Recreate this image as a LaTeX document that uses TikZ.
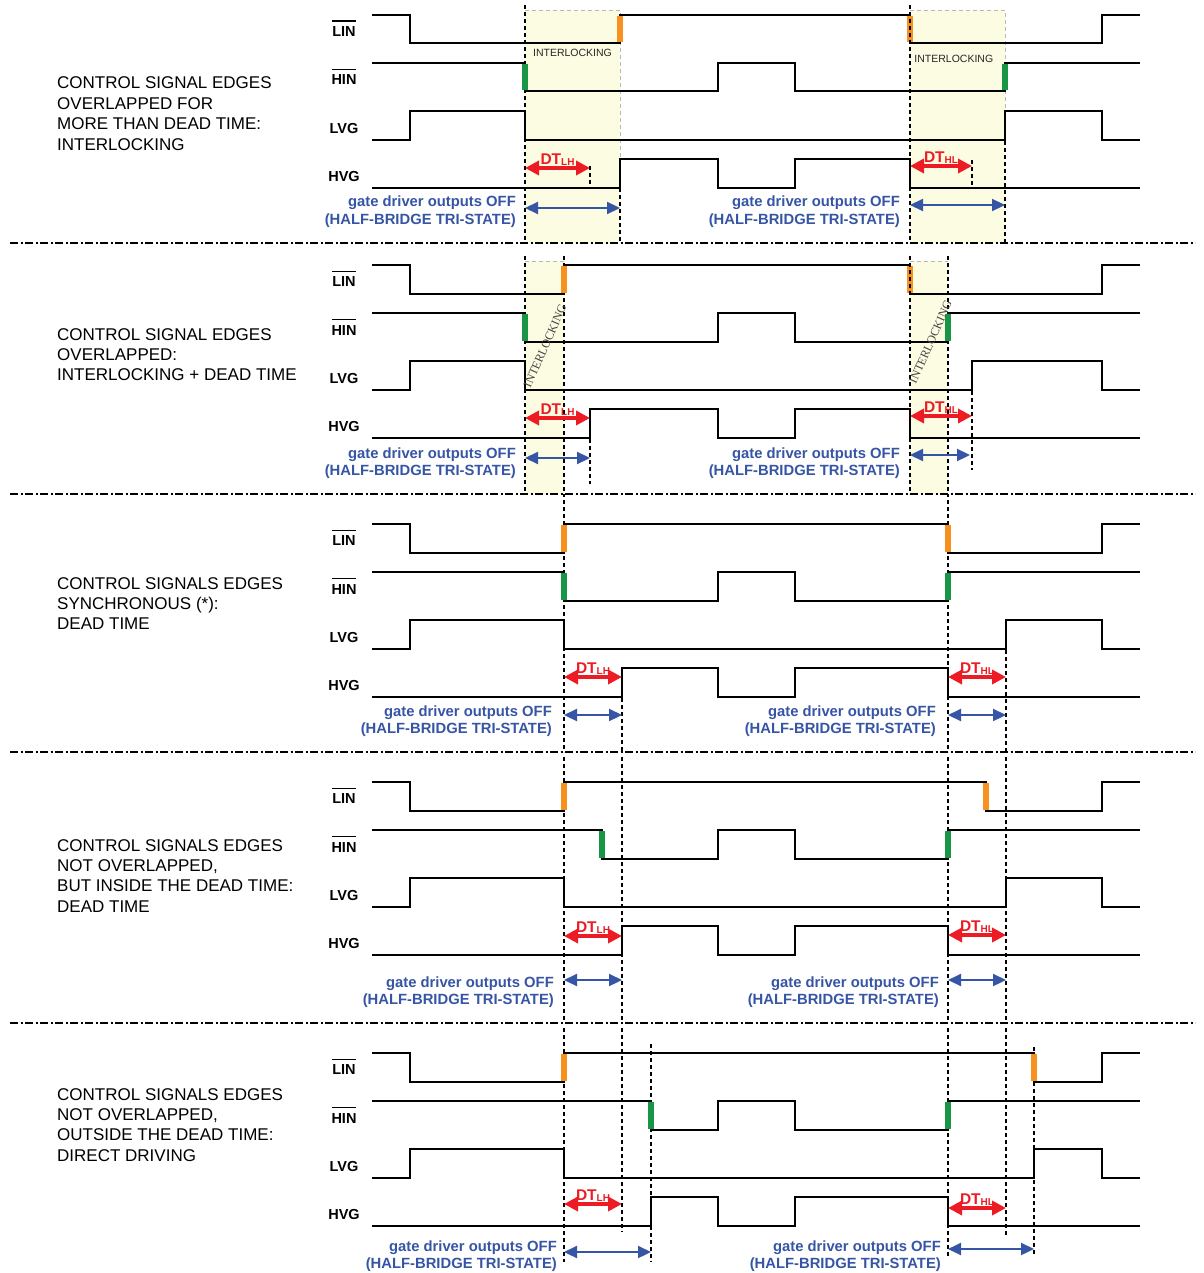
\documentclass[tikz,border=0pt]{standalone}
\usepackage{fontspec}
\setmainfont{Liberation Sans}
\newfontfamily\timesfont{Liberation Serif}
\usetikzlibrary{arrows.meta}
\definecolor{sigorange}{RGB}{247,144,30}
\definecolor{siggreen}{RGB}{24,150,70}
\definecolor{dtred}{RGB}{237,28,36}
\definecolor{offblue}{RGB}{55,85,165}
\definecolor{shadeyel}{RGB}{252,252,226}
\definecolor{bordergray}{RGB}{185,185,185}
\definecolor{rotgray}{RGB}{70,70,70}

\newcommand\ovl[1]{\setbox0\hbox{#1}\rlap{\rule[14.8pt]{\wd0}{1.4pt}}\box0}

\tikzset{
 wave/.style={line width=2pt},
 orangebar/.style={line width=6pt, sigorange},
 greenbar/.style={line width=6pt, siggreen},
 vdash/.style={line width=1.3pt, dash pattern=on 4pt off 3pt},
 graydash/.style={line width=1pt, bordergray, dash pattern=on 4pt off 3pt},
 sepline/.style={line width=1.8pt, dash pattern=on 8pt off 2.5pt on 2pt off 2.5pt},
 dtarr/.style={dtred, line width=3.5pt, {Triangle[length=14pt,width=14pt]}-{Triangle[length=14pt,width=14pt]}},
 offarr/.style={offblue, line width=2.2pt, {Triangle[length=13pt,width=12pt]}-{Triangle[length=13pt,width=12pt]}},
 siglab/.style={font=\fontsize{14.5}{15}\selectfont\bfseries, anchor=base, inner sep=0pt},
 desc/.style={font=\fontsize{17}{20}\selectfont, anchor=base west, inner sep=0pt},
 offtxt/.style={font=\fontsize{14.8}{16}\selectfont\bfseries, text=offblue, anchor=base east, inner sep=0pt},
 dtlab/.style={font=\fontsize{15.5}{16}\selectfont\bfseries, text=dtred, anchor=base, inner sep=0pt},
 ilock/.style={font=\fontsize{10.5}{11}\selectfont, text=black!85, anchor=base, inner sep=0pt},
 ilockrot/.style={font=\timesfont\fontsize{12}{12}\selectfont, text=rotgray, rotate=66, inner sep=0pt},
}

\newcommand\drawwaves[8]{%
 \draw[wave] (372,0) -- (410,0) -- (410,28.5) -- (#1,28.5) -- (#1,0) -- (#2,0) -- (#2,28.5) -- (1102,28.5) -- (1102,0) -- (1140,0);
 \draw[wave] (372,48) -- (#3,48) -- (#3,76.5) -- (718,76.5) -- (718,48) -- (795,48) -- (795,76.5) -- (#4,76.5) -- (#4,48) -- (1140,48);
 \draw[wave] (372,125) -- (410,125) -- (410,96) -- (#5,96) -- (#5,125) -- (#6,125) -- (#6,96) -- (1102,96) -- (1102,125) -- (1140,125);
 \draw[wave] (372,173) -- (#7,173) -- (#7,144) -- (718,144) -- (718,173) -- (795,173) -- (795,144) -- (#8,144) -- (#8,173) -- (1140,173);
}
\newcommand\drawbars[4]{%
 \draw[orangebar] (#1,1) -- (#1,27.5);
 \draw[orangebar] (#2,1) -- (#2,27.5);
 \draw[greenbar] (#3,49) -- (#3,75.5);
 \draw[greenbar] (#4,49) -- (#4,75.5);
}
\newcommand\siglabels[1]{%
 \node[siglab] (#1lin) at (344,21.7) {\ovl{LIN}};
 \node[siglab] (#1hin) at (344,70) {\ovl{HIN}};
 \node[siglab] (#1lvg) at (344,118.3) {LVG};
 \node[siglab] (#1hvg) at (344,166.7) {HVG};
}
\newcommand\dtarrow[5]{%
 \coordinate (#1a) at (#2,#4);
 \coordinate (#1b) at (#3,#4);
 \draw[dtarr] (#1a) -- (#1b);
 \node[dtlab] (#1l) at ({(#2+#3)/2},{#4-3.5}) {DT{\fontsize{10}{10}\selectfont\raisebox{-1pt}{#5}}};
}
\newcommand\offarrow[4]{%
 \coordinate (#1a) at (#2,#4);
 \coordinate (#1b) at (#3,#4);
 \draw[offarr] (#1a) -- (#1b);
}
\newcommand\offtext[3]{%
 \node[offtxt] (#1t1) at (#2,#3) {gate driver outputs OFF};
 \node[offtxt] (#1t2) at (#2,{#3+17.8}) {(HALF-BRIDGE TRI-STATE)};
}

\begin{document}
\begin{tikzpicture}[x=1pt,y=-1pt]
\useasboundingbox (0,0) rectangle (1203,1273);
\fill[white] (0,0) rectangle (1203,1273);

% interlocking shaded zones
\fill[shadeyel] (525,10.5) rectangle (620,243);
\draw[graydash] (525,10.5) -- (620,10.5) -- (620,187);
\fill[shadeyel] (910,10.5) rectangle (1005,243);
\draw[graydash] (910,10.5) -- (1005,10.5) -- (1005,140);
\fill[shadeyel] (525,261) rectangle (564,494);
\draw[graydash] (525,261) -- (564,261);
\fill[shadeyel] (910,261) rectangle (948,494);
\draw[graydash] (910,261) -- (948,261);

% separators
\draw[sepline] (10,243) -- (1195,243);
\draw[sepline] (10,494) -- (1195,494);
\draw[sepline] (10,752) -- (1195,752);
\draw[sepline] (10,1023) -- (1195,1023);

% waveforms
\begin{scope}[shift={(0,15)}]
 \drawwaves{620}{910}{525}{1005}{525}{1005}{620}{910}
 \siglabels{a}
\end{scope}
\begin{scope}[shift={(0,265)}]
 \drawwaves{564}{910}{525}{948}{525}{972}{590}{910}
 \siglabels{b}
\end{scope}
\begin{scope}[shift={(0,524)}]
 \drawwaves{564}{948}{564}{948}{564}{1006}{622}{948}
 \siglabels{c}
\end{scope}
\begin{scope}[shift={(0,782)}]
 \drawwaves{564}{986}{602}{948}{564}{1006}{622}{948}
 \siglabels{d}
\end{scope}
\begin{scope}[shift={(0,1053)}]
 \drawwaves{564}{1034}{651}{948}{564}{1034}{651}{948}
 \siglabels{e}
\end{scope}

% dashed time markers
\draw[vdash] (525,5) -- (525,243);
\draw[vdash] (620,188) -- (620,243);
\draw[vdash] (1005,141) -- (1005,243);
\draw[vdash] (590,166) -- (590,188);
\draw[vdash] (972,160) -- (972,188);

\draw[vdash] (525,256) -- (525,494);
\draw[vdash] (564,256) -- (564,497);
\draw[vdash] (948,256) -- (948,497);
\draw[vdash] (590,439) -- (590,484);
\draw[vdash] (972,391) -- (972,470);

\draw[vdash] (564,500) -- (564,752);
\draw[vdash] (622,698) -- (622,752);
\draw[vdash] (948,500) -- (948,752);
\draw[vdash] (1006,650) -- (1006,752);

\draw[vdash] (564,757) -- (564,1022);
\draw[vdash] (622,757) -- (622,1022);
\draw[vdash] (948,757) -- (948,1022);
\draw[vdash] (1006,757) -- (1006,1022);

\draw[vdash] (564,1028) -- (564,1262);
\draw[vdash] (622,1028) -- (622,1232);
\draw[vdash] (651,1044) -- (651,1262);
\draw[vdash] (948,1028) -- (948,1258);
\draw[vdash] (1006,1028) -- (1006,1235);
\draw[vdash] (1034,1047) -- (1034,1256);

% coloured control edges
\begin{scope}[shift={(0,15)}]\drawbars{620}{910}{525}{1005}\end{scope}
\begin{scope}[shift={(0,265)}]\drawbars{564}{910}{525}{948}\end{scope}
\begin{scope}[shift={(0,524)}]\drawbars{564}{948}{564}{948}\end{scope}
\begin{scope}[shift={(0,782)}]\drawbars{564}{986}{602}{948}\end{scope}
\begin{scope}[shift={(0,1053)}]\drawbars{564}{1034}{651}{948}\end{scope}
\draw[vdash] (910,5) -- (910,243);
\draw[vdash] (910,256) -- (910,494);

% interlocking labels
\node[ilock] (il1) at (572.5,57) {INTERLOCKING};
\node[ilock] (il2) at (953.8,63) {INTERLOCKING};
\node[ilockrot] (il3) at (545,346) {INTERLOCKING};
\node[ilockrot] (il4) at (930.5,342) {INTERLOCKING};

% dead time and tri-state arrows
\dtarrow{p1}{525}{590}{168}{LH}
\dtarrow{p2}{910}{972}{166}{HL}
\offarrow{q1}{525}{620}{208}
\offarrow{q2}{910}{1005}{205}
\offtext{r1}{516}{207}
\offtext{r2}{900}{207}

\dtarrow{p3}{525}{590}{418}{LH}
\dtarrow{p4}{910}{972}{416}{HL}
\offarrow{q3}{525}{590}{458}
\offarrow{q4}{910}{970}{455}
\offtext{r3}{516}{458}
\offtext{r4}{900}{458}

\dtarrow{p5}{564}{622}{677}{LH}
\dtarrow{p6}{948}{1006}{677}{HL}
\offarrow{q5}{564}{622}{715}
\offarrow{q6}{948}{1006}{715}
\offtext{r5}{552}{716}
\offtext{r6}{936}{716}

\dtarrow{p7}{564}{622}{936}{LH}
\dtarrow{p8}{948}{1006}{935}{HL}
\offarrow{q7}{564}{622}{980}
\offarrow{q8}{948}{1006}{980}
\offtext{r7}{554}{987}
\offtext{r8}{939}{987}

\dtarrow{p9}{564}{622}{1204}{LH}
\dtarrow{p10}{948}{1006}{1208}{HL}
\offarrow{q9}{564}{651}{1252}
\offarrow{q10}{948}{1034}{1249}
\offtext{r9}{557}{1251}
\offtext{r10}{941}{1251}

% descriptions
\node[desc] (d1a) at (57,89) {CONTROL SIGNAL EDGES};
\node[desc] (d1b) at (57,109.4) {OVERLAPPED FOR};
\node[desc] (d1c) at (57,129.8) {MORE THAN DEAD TIME:};
\node[desc] (d1d) at (57,150.2) {INTERLOCKING};

\node[desc] (d2a) at (57,340) {CONTROL SIGNAL EDGES};
\node[desc] (d2b) at (57,360.4) {OVERLAPPED:};
\node[desc] (d2c) at (57,380.8) {INTERLOCKING + DEAD TIME};

\node[desc] (d3a) at (57,589) {CONTROL SIGNALS EDGES};
\node[desc] (d3b) at (57,609.4) {SYNCHRONOUS (*):};
\node[desc] (d3c) at (57,629.8) {DEAD TIME};

\node[desc] (d4a) at (57,851) {CONTROL SIGNALS EDGES};
\node[desc] (d4b) at (57,871.4) {NOT OVERLAPPED,};
\node[desc] (d4c) at (57,891.8) {BUT INSIDE THE DEAD TIME:};
\node[desc] (d4d) at (57,912.2) {DEAD TIME};

\node[desc] (d5a) at (57,1100) {CONTROL SIGNALS EDGES};
\node[desc] (d5b) at (57,1120.4) {NOT OVERLAPPED,};
\node[desc] (d5c) at (57,1140.8) {OUTSIDE THE DEAD TIME:};
\node[desc] (d5d) at (57,1161.2) {DIRECT DRIVING};
\end{tikzpicture}
\end{document}
